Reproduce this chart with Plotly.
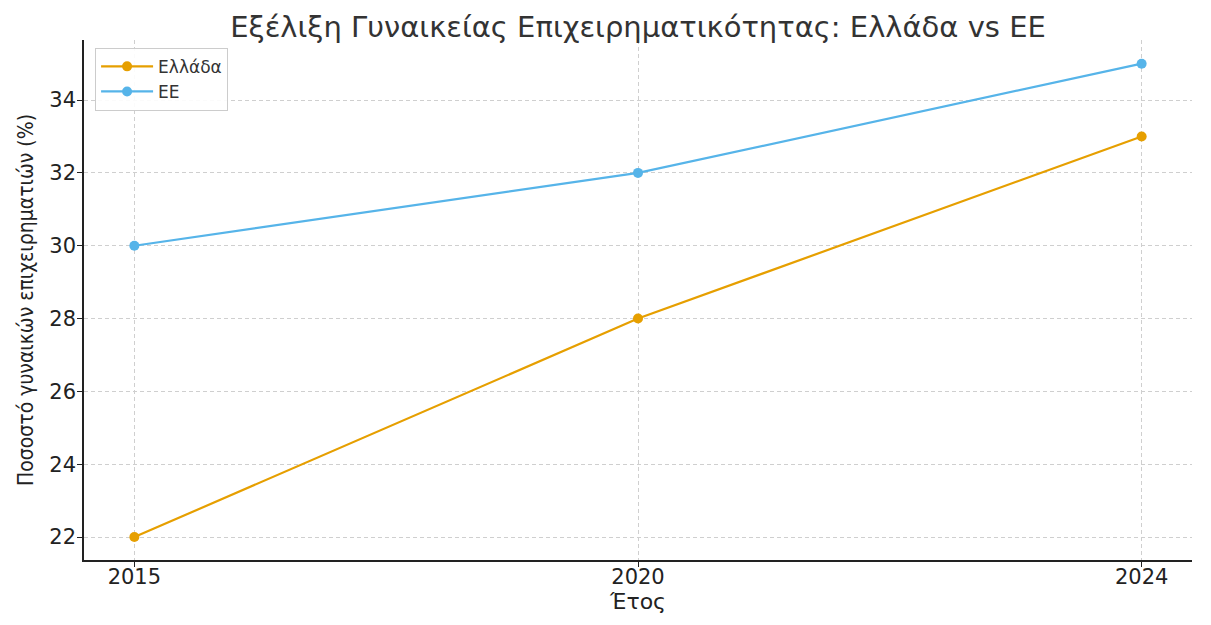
import plotly.graph_objects as go

years = ["2015", "2020", "2024"]
greece = [22, 28, 33]
eu = [30, 32, 35]
y_ticks = [22, 24, 26, 28, 30, 32, 34]

fig = go.Figure()
fig.add_trace(go.Scatter(x=years, y=greece, mode="lines+markers", name="Ελλάδα",
                         line=dict(color="#E69F00", width=2.2), marker=dict(size=10, color="#E69F00")))
fig.add_trace(go.Scatter(x=years, y=eu, mode="lines+markers", name="ΕΕ",
                         line=dict(color="#56B4E9", width=2.2), marker=dict(size=10, color="#56B4E9")))

axis_common = dict(showgrid=True, gridcolor="#cfcfcf", griddash="4px,3px", gridwidth=1,
                   showline=True, linecolor="#222222", linewidth=1.5, ticks="outside",
                   ticklen=5, tickcolor="#222222", zeroline=False,
                   tickfont=dict(family="DejaVu Sans", size=21, color="#222222"))

fig.update_layout(
    width=1203, height=617,
    paper_bgcolor="white", plot_bgcolor="white",
    margin=dict(l=76, r=19, t=32, b=65),
    title=dict(text="Εξέλιξη Γυναικείας Επιχειρηματικότητας: Ελλάδα vs ΕΕ",
               x=0.5, xref="paper", xanchor="center", y=0.97, yanchor="middle",
               font=dict(family="DejaVu Sans", size=29, color="#333333")),
    showlegend=True,
    legend=dict(x=0.01, y=0.985, xanchor="left", yanchor="top", itemwidth=52,
                bgcolor="rgba(255,255,255,0.9)", bordercolor="#cccccc", borderwidth=1,
                tracegroupgap=0,
                font=dict(family="DejaVu Sans", size=17, color="#333333")),
    xaxis=dict(type="category", range=[-0.1, 2.1], ticklabelstandoff=-8,
               title=dict(text="Έτος", font=dict(family="DejaVu Sans", size=22, color="#222222"), standoff=0),
               **axis_common),
    yaxis=dict(range=[21.37, 35.65], tickvals=y_ticks, ticklabelstandoff=-3,
               title=dict(text="Ποσοστό γυναικών επιχειρηματιών (%)",
                          font=dict(family="DejaVu Sans Condensed", size=21, color="#222222"), standoff=10),
               **axis_common),
)
fig.write_html("out.html")
